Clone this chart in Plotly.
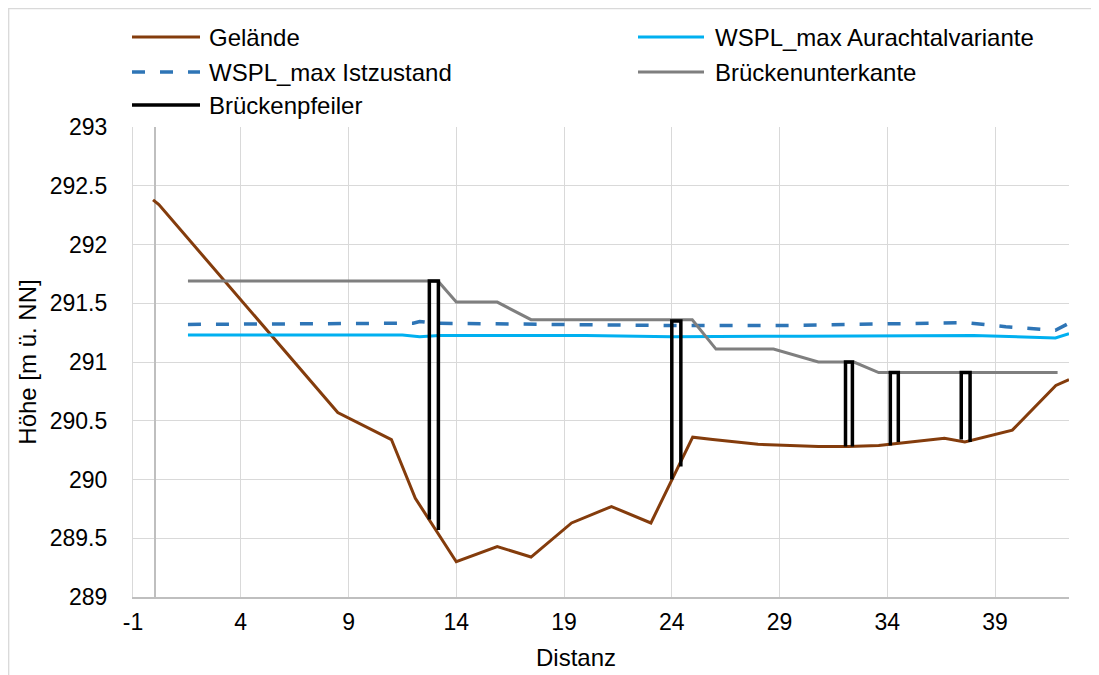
import plotly.graph_objects as go

# ---- data ----
gelaende_x = [-0.07, 0.2, 8.5, 10.99, 12.1, 14.0, 15.9, 17.47, 19.35, 21.2, 23.03, 24.0,
              24.97, 25.9, 28.0, 30.8, 32.2, 33.6, 36.65, 37.6, 39.8, 41.82, 42.43]
gelaende_y = [292.38, 292.34, 290.57, 290.34, 289.84, 289.30, 289.43, 289.34, 289.63, 289.77,
              289.63, 290.0, 290.36, 290.34, 290.30, 290.28, 290.28, 290.29, 290.35, 290.32,
              290.42, 290.80, 290.85]

aurach_x = [1.55, 11.5, 12.3, 13.2, 20.0, 24.0, 30.0, 38.0, 41.8, 42.43]
aurach_y = [291.23, 291.23, 291.215, 291.225, 291.225, 291.215, 291.22, 291.225, 291.205, 291.24]

ist_x = [1.55, 12.0, 12.3, 13.0, 24.0, 29.0, 37.6, 39.5, 41.8, 42.43]
ist_y = [291.32, 291.33, 291.345, 291.33, 291.31, 291.31, 291.335, 291.30, 291.27, 291.33]

unterkante_x = [1.55, 13.15, 14.0, 15.9, 17.47, 24.95, 26.05, 28.72, 30.8, 32.45, 33.6, 41.9]
unterkante_y = [291.69, 291.69, 291.51, 291.51, 291.36, 291.36, 291.11, 291.11, 291.0, 291.0,
                290.91, 290.91]

pfeiler_x = [12.75, 12.75, 13.17, 13.17, None,
             24.0, 24.0, 24.42, 24.42, None,
             32.06, 32.06, 32.38, 32.38, None,
             34.14, 34.14, 34.51, 34.51, None,
             37.43, 37.43, 37.84, 37.84]
pfeiler_y = [289.66, 291.69, 291.69, 289.57, None,
             290.0, 291.35, 291.35, 290.11, None,
             290.28, 291.0, 291.0, 290.28, None,
             290.29, 290.91, 290.91, 290.32, None,
             290.34, 290.91, 290.91, 290.32]

series_names = ["Gelände", "WSPL_max Aurachtalvariante", "WSPL_max Istzustand",
                "Brückenunterkante", "Brückenpfeiler"]

x_ticks = [-1, 4, 9, 14, 19, 24, 29, 34, 39]
y_ticks = [289, 289.5, 290, 290.5, 291, 291.5, 292, 292.5, 293]
y_ticktext = ["289", "289.5", "290", "290.5", "291", "291.5", "292", "292.5", "293"]

FONT = "Liberation Sans, Arial, sans-serif"

styles = [
    dict(color="#843C0C", width=3),
    dict(color="#00B0F0", width=3),
    dict(color="#2E75B6", width=3.5, dash="13px,15px"),
    dict(color="#7F7F7F", width=3),
    dict(color="#000000", width=3.5),
]
data = [(gelaende_x, gelaende_y), (aurach_x, aurach_y), (ist_x, ist_y),
        (unterkante_x, unterkante_y), (pfeiler_x, pfeiler_y)]

fig = go.Figure()
for name, (xs, ys), st in zip(series_names, data, styles):
    fig.add_trace(go.Scatter(x=xs, y=ys, mode="lines", name=name, line=st,
                             connectgaps=False, showlegend=False))

# the page body adds an 8px offset; layout is specified in screen pixels and shifted
OFF = 8
W, H = 1099, 675
L, T = 133 - OFF, 127 - OFF
R = W - (1069 - OFF)
B = H - (597 - OFF)
pw, ph = W - L - R, H - T - B


def pxx(sx):
    return (sx - OFF - L) / pw


def pxy(sy):
    return (H - B - (sy - OFF)) / ph


# legend drawn as decoration (symbol line + label) in paper coordinates
legend_slots = [(132, 200, 207, 37), (638, 704, 713, 37),
                (132, 200, 207, 72), (638, 704, 713, 72),
                (132, 200, 207, 105)]
shapes = [dict(type="rect", xref="paper", yref="paper",
               x0=pxx(8.7), x1=pxx(1125), y0=pxy(700), y1=pxy(8.7),
               line=dict(color="#D9D9D9", width=1.3), fillcolor="rgba(0,0,0,0)",
               layer="below")]
annotations = [dict(text="Distanz", xref="paper", yref="paper",
                    x=pxx(576), y=pxy(657), xanchor="center", yanchor="middle",
                    showarrow=False, font=dict(size=24, family=FONT))]
for name, st, (lx0, lx1, tx, ty) in zip(series_names, styles, legend_slots):
    ln = dict(color=st["color"], width=st["width"])
    if "dash" in st:
        ln["dash"] = st["dash"]
    shapes.append(dict(type="line", xref="paper", yref="paper",
                       x0=pxx(lx0), x1=pxx(lx1), y0=pxy(ty), y1=pxy(ty), line=ln))
    annotations.append(dict(text=name, xref="paper", yref="paper", x=pxx(tx), y=pxy(ty),
                            xanchor="left", yanchor="middle", showarrow=False,
                            font=dict(size=24, family=FONT, color="#000000")))

fig.update_layout(
    width=W, height=H,
    margin=dict(l=L, r=R, t=T, b=B, autoexpand=False),
    paper_bgcolor="white", plot_bgcolor="white",
    font=dict(family=FONT, size=23, color="#000000"),
    showlegend=False,
    xaxis=dict(range=[-1, 42.43], tickmode="array", tickvals=x_ticks,
               ticktext=[str(v) for v in x_ticks], automargin=False,
               showgrid=True, gridcolor="#D9D9D9", gridwidth=1.3,
               zeroline=True, zerolinecolor="#BFBFBF", zerolinewidth=1.5,
               showline=True, linecolor="#BFBFBF", linewidth=1.5,
               ticks="", ticklabelstandoff=4,
               tickfont=dict(size=23, family=FONT)),
    yaxis=dict(range=[289, 293], tickmode="array", tickvals=y_ticks,
               ticktext=y_ticktext, automargin=False,
               showgrid=True, gridcolor="#D9D9D9", gridwidth=1.3,
               zeroline=False, showline=True, linecolor="#D9D9D9", linewidth=1.3,
               ticks="", ticklabelstandoff=20,
               tickfont=dict(size=23, family=FONT),
               title=dict(text="Höhe [m ü. NN]", font=dict(size=24, family=FONT), standoff=6)),
    annotations=annotations,
    shapes=shapes,
)

fig.write_html("out.html")
